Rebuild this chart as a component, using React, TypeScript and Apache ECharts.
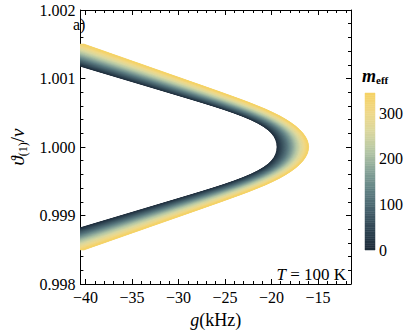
import React, { useEffect, useRef } from 'react';
import * as echarts from 'echarts';

// half-width of the band: theta/nu - 1, in units of 1e-3
const deltaK = [0, 0.05, 0.1, 0.15, 0.2, 0.25, 0.3, 0.35, 0.4, 0.45, 0.5, 0.55, 0.6, 0.65, 0.7, 0.8, 0.9, 1.0, 1.1, 1.2, 1.3, 1.4, 1.5];
// g (kHz) of the inner edge (m_eff = 0) and of the outer edge (m_eff = max)
const gInner = [-19.4, -19.43, -19.53, -19.71, -19.99, -20.37, -20.87, -21.5, -22.25, -23.12, -24.1, -25.17, -26.31, -27.5, -28.72, -31.19, -33.66, -36.13, -38.6, -41.07, -43.54, -46.01, -48.48];
const gOuter = [-16.0, -16.04, -16.15, -16.34, -16.6, -16.94, -17.35, -17.85, -18.42, -19.06, -19.81, -20.6, -21.5, -22.42, -23.41, -25.45, -27.54, -29.64, -31.74, -33.84, -35.94, -38.04, -40.14];

const mMin = 0;
const mMax = 345;
const mStep = 5;

const xMajor = [-40, -35, -30, -25, -20, -15];
const xMinor = [-39, -38, -37, -36, -34, -33, -32, -31, -29, -28, -27, -26, -24, -23, -22, -21, -19, -18, -17, -16, -14, -13, -12];
const xMin = -40.56;
const xMax = -11.44;
const yMin = 0.998;
const yMax = 1.002;
const yInterval = 0.001;
const cbTicks = [0, 100, 200, 300];

const colorStops = ['#1d2b38', '#2f4452', '#45606b', '#5f7f83', '#86a298', '#b3c6a5', '#d9d8a0', '#efd889', '#f5d264'];

const FONT = "'Liberation Serif', 'Times New Roman', Times, serif";

function fmtNum(v: number) {
  return v < 0 ? '\u2212' + Math.abs(v) : String(v);
}

export default function App() {
  const ref = useRef<HTMLDivElement>(null);
  useEffect(() => {
    if (!ref.current) return;
    const chart = echarts.init(ref.current, null, { renderer: 'svg' });

    const strips: number[][] = [];
    for (let m = mMin; m < mMax; m += mStep) {
      const hi = Math.min(m + mStep, mMax);
      strips.push([m, hi, (m + hi) / 2]);
    }

    const curve = (t: number) => {
      const pts: number[][] = [];
      const n = deltaK.length;
      for (let i = n - 1; i >= 0; i--) {
        pts.push([gInner[i] + t * (gOuter[i] - gInner[i]), 1 + deltaK[i] * 1e-3]);
      }
      for (let i = 1; i < n; i++) {
        pts.push([gInner[i] + t * (gOuter[i] - gInner[i]), 1 - deltaK[i] * 1e-3]);
      }
      return pts;
    };

    const tickStyle = { color: '#000', width: 1 };

    const option: any = {
      animation: false,
      textStyle: { fontFamily: FONT },
      grid: [
        { left: 68, top: 10, right: 58, bottom: 42, show: false },
        { left: 365, top: 93, width: 10, height: 157, show: false },
      ],
      visualMap: {
        type: 'continuous',
        show: false,
        min: mMin,
        max: mMax,
        dimension: 2,
        seriesIndex: [0, 1],
        inRange: { color: colorStops },
      },
      xAxis: [
        {
          type: 'value', gridIndex: 0, position: 'bottom', min: xMin, max: xMax,
          axisLine: { show: true, onZero: false, lineStyle: { color: '#000', width: 1 } },
          axisTick: { show: true, inside: true, length: 5, customValues: xMajor, lineStyle: tickStyle },
          axisLabel: { customValues: xMajor, formatter: fmtNum, color: '#000', fontFamily: FONT, fontSize: 16, margin: 5 },
          splitLine: { show: false },
          name: '{i|g}{r|(kHz)}',
          nameLocation: 'middle',
          nameGap: 27,
          nameTextStyle: {
            color: '#000',
            rich: {
              i: { fontFamily: FONT, fontStyle: 'italic', fontSize: 18, color: '#000' },
              r: { fontFamily: FONT, fontSize: 18, color: '#000' },
            },
          },
        },
        {
          type: 'value', gridIndex: 0, position: 'bottom', min: xMin, max: xMax,
          axisLine: { show: false },
          axisTick: { show: true, inside: true, length: 3, customValues: xMinor, lineStyle: tickStyle },
          axisLabel: { show: false },
          splitLine: { show: false },
        },
        {
          type: 'value', gridIndex: 0, position: 'top', min: xMin, max: xMax,
          axisLine: { show: true, onZero: false, lineStyle: { color: '#000', width: 1 } },
          axisTick: { show: true, inside: true, length: 5, customValues: xMajor, lineStyle: tickStyle },
          axisLabel: { show: false },
          splitLine: { show: false },
        },
        {
          type: 'value', gridIndex: 0, position: 'top', min: xMin, max: xMax,
          axisLine: { show: false },
          axisTick: { show: true, inside: true, length: 3, customValues: xMinor, lineStyle: tickStyle },
          axisLabel: { show: false },
          splitLine: { show: false },
        },
        {
          type: 'value', gridIndex: 1, min: 0, max: 1, show: false,
        },
      ],
      yAxis: [
        {
          type: 'value', gridIndex: 0, position: 'left', min: yMin, max: yMax, interval: yInterval,
          axisLine: { show: true, onZero: false, lineStyle: { color: '#000', width: 1 } },
          axisTick: { show: true, inside: true, length: 5, lineStyle: tickStyle },
          minorTick: { show: true, splitNumber: 5, length: 3, lineStyle: tickStyle },
          axisLabel: { formatter: (v: number) => v.toFixed(3), color: '#000', fontFamily: FONT, fontSize: 16, margin: 5 },
          splitLine: { show: false },
          name: '{i|\u03D1}{s|(1)}{r|/}{i|\u03BD}',
          nameLocation: 'middle',
          nameGap: 43,
          nameRotate: 90,
          nameTextStyle: {
            color: '#000',
            rich: {
              i: { fontFamily: FONT, fontStyle: 'italic', fontSize: 19, color: '#000', lineHeight: 22, verticalAlign: 'middle' },
              r: { fontFamily: FONT, fontSize: 19, color: '#000', lineHeight: 22, verticalAlign: 'middle' },
              s: { fontFamily: FONT, fontSize: 12, color: '#000', lineHeight: 12, verticalAlign: 'bottom' },
            },
          },
        },
        {
          type: 'value', gridIndex: 0, position: 'right', min: yMin, max: yMax, interval: yInterval,
          axisLine: { show: true, onZero: false, lineStyle: { color: '#000', width: 1 } },
          axisTick: { show: true, inside: true, length: 5, lineStyle: tickStyle },
          minorTick: { show: true, splitNumber: 5, length: 3, lineStyle: tickStyle },
          axisLabel: { show: false },
          splitLine: { show: false },
        },
        {
          type: 'value', gridIndex: 1, position: 'right', min: mMin, max: mMax,
          axisLine: { show: false },
          axisTick: { show: false },
          axisLabel: { customValues: cbTicks, color: '#000', fontFamily: FONT, fontSize: 16, margin: 4 },
          splitLine: { show: false },
        },
      ],
      series: [
        {
          type: 'custom',
          xAxisIndex: 0,
          yAxisIndex: 0,
          clip: true,
          encode: { x: -1, y: -1 },
          data: strips,
          renderItem: (params: any, api: any) => {
            const t0 = api.value(0) / mMax;
            const t1 = api.value(1) / mMax;
            const a = curve(t0);
            const b = curve(t1).reverse();
            const pts = a.concat(b).map((p) => api.coord(p));
            const c = api.visual('color');
            return {
              type: 'polygon',
              shape: { points: pts },
              style: { fill: c, stroke: c, lineWidth: 0.7 },
            };
          },
        },
        {
          type: 'custom',
          xAxisIndex: 4,
          yAxisIndex: 2,
          encode: { x: -1, y: -1 },
          data: strips,
          renderItem: (params: any, api: any) => {
            const p0 = api.coord([0, api.value(0)]);
            const p1 = api.coord([1, api.value(1)]);
            const c = api.visual('color');
            return {
              type: 'rect',
              shape: { x: p0[0], y: p1[1], width: p1[0] - p0[0], height: p0[1] - p1[1] },
              style: { fill: c, stroke: c, lineWidth: 0.5 },
            };
          },
        },
      ],
      graphic: [
        {
          type: 'text', left: 73, top: 16,
          style: { text: 'a)', fontFamily: FONT, fontSize: 16, fill: '#000' },
        },
        {
          type: 'text', left: 362, top: 67,
          style: {
            text: '{m|m}{e|eff}',
            rich: {
              m: { fontFamily: FONT, fontStyle: 'italic', fontWeight: 'bold', fontSize: 18, fill: '#000', lineHeight: 18, verticalAlign: 'middle' },
              e: { fontFamily: FONT, fontWeight: 'bold', fontSize: 11, fill: '#000', lineHeight: 11, verticalAlign: 'bottom' },
            },
          },
        },
        {
          type: 'text', right: 63, top: 266,
          style: {
            text: '{i|T}{r| = 100 K}',
            rich: {
              i: { fontFamily: FONT, fontStyle: 'italic', fontSize: 17, fill: '#000' },
              r: { fontFamily: FONT, fontSize: 17, fill: '#000' },
            },
          },
        },
      ],
    };

    chart.setOption(option);
    return () => chart.dispose();
  }, []);

  return <div ref={ref} style={{ position: 'absolute', left: 0, top: 0, width: 409, height: 334 }} />;
}
